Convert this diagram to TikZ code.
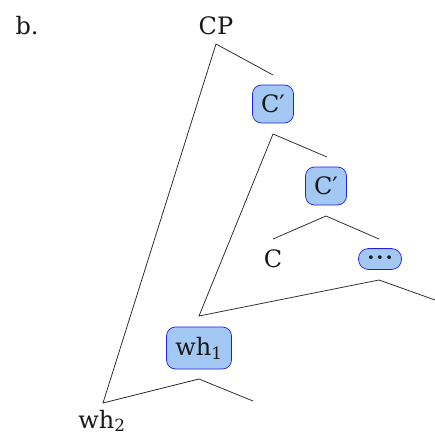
\documentclass[tikz,border=0pt]{standalone}
\usepackage{fontspec}
\setmainfont{DejaVu Serif}
\definecolor{hlfill}{RGB}{164,200,244}
\definecolor{hlline}{RGB}{30,30,230}
\begin{document}
\begin{tikzpicture}[x=1pt,y=-1pt,
  every node/.style={font=\fontsize{24}{28}\selectfont, text=black!90},
  lbl/.style={anchor=base, inner sep=0pt},
  hl/.style={draw=hlline, line width=0.7pt, fill=hlfill, rounded corners=9pt, inner sep=0pt},
  br/.style={draw=black!85, line width=0.75pt}]
\useasboundingbox (0,0) rectangle (435,439);
% labels
\node[lbl] (b) at (27,34) {b.};
\node[lbl] (cp) at (216,34) {CP};
\node[hl, minimum width=41pt, minimum height=38pt] (c1) at (273,104) {C′};
\node[hl, minimum width=41pt, minimum height=38pt] (c2) at (326,186) {C′};
\node[lbl] (c) at (273,267) {C};
\node[hl, rounded corners=10pt, minimum width=43pt, minimum height=21pt] (dots) at (380,259) {\fontsize{13}{13}\selectfont •\hspace{1.5pt}•\hspace{1.5pt}•};
\node[hl, minimum width=65pt, minimum height=42pt] (wh1) at (199,348) {wh\textsubscript{1}};
\node[lbl] (wh2) at (102,428) {wh\textsubscript{2}};
% branch points
\coordinate (a0) at (216,44);
\coordinate (r0) at (273,75);
\coordinate (l0) at (103,403);
\coordinate (a1) at (273,134);
\coordinate (r1) at (327,157);
\coordinate (m) at (199,316);
\coordinate (a2) at (326,216);
\coordinate (l2) at (273,239);
\coordinate (r2) at (379,239);
\coordinate (a3) at (379,280);
\coordinate (r3) at (435,300);
\coordinate (a4) at (199,379);
\coordinate (r4) at (253,401);
% branches
\draw[br] (r0) -- (a0) -- (l0) -- (a4) -- (r4);
\draw[br] (r1) -- (a1) -- (m) -- (a3) -- (r3);
\draw[br] (l2) -- (a2) -- (r2);
\end{tikzpicture}
\end{document}
